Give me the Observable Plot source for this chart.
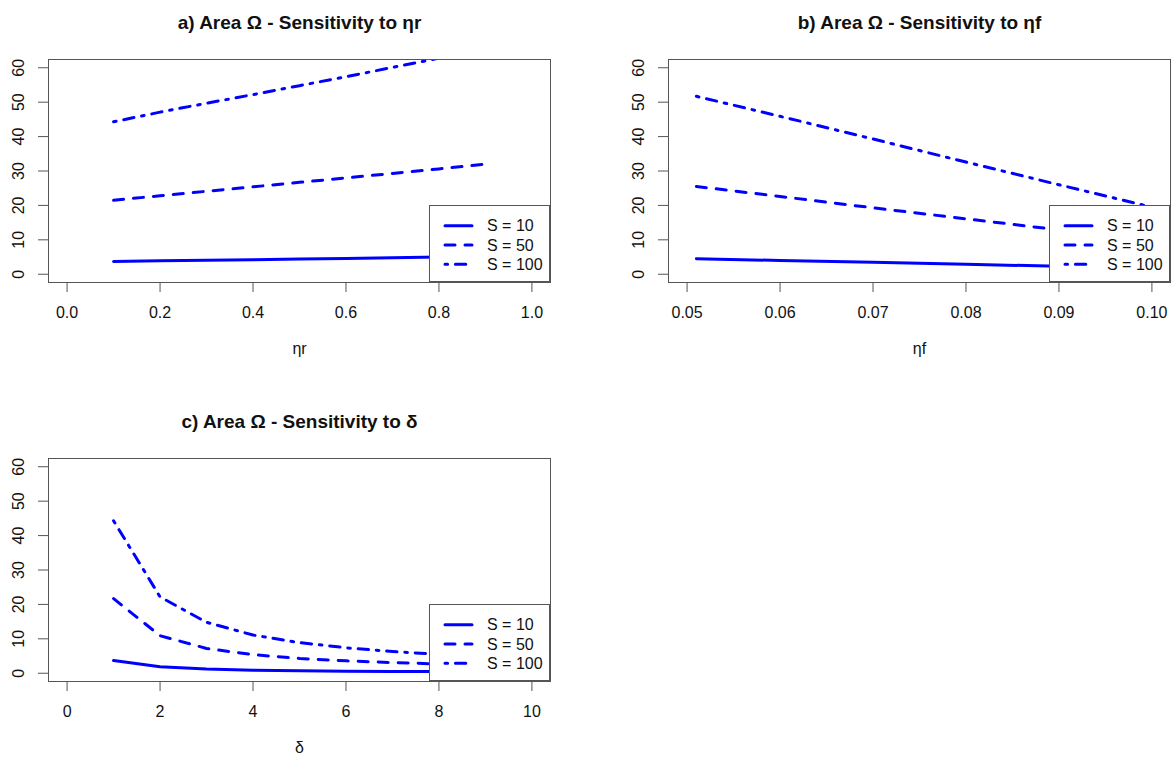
<!DOCTYPE html>
<html><head><meta charset="utf-8">
<script src="https://cdn.jsdelivr.net/npm/d3@7"></script>
<script src="https://cdn.jsdelivr.net/npm/@observablehq/plot@0.6"></script>
<style>
body{margin:0;background:#fff;}
#wrap{position:relative;width:1176px;height:757px;font-family:"Liberation Sans",Arial,sans-serif;background:#fff;}
#wrap svg{position:absolute;overflow:visible;}
</style></head><body><div id="wrap"></div>
<script>
// ---- data ----
const seriesNames = ["S = 10", "S = 50", "S = 100"];
const yTicks = [0, 10, 20, 30, 40, 50, 60];

// panel a: sensitivity to eta_r
const etaR = [0.1, 0.2, 0.3, 0.4, 0.5, 0.6, 0.7, 0.8, 0.9];
const aS10 = [3.7, 3.9, 4.1, 4.2, 4.4, 4.6, 4.8, 5.0, 5.2];
const aS50 = [21.5, 22.8, 24.1, 25.4, 26.7, 28.0, 29.3, 30.6, 32.0];
const aS100 = [44.3, 47.1, 49.7, 52.2, 54.8, 57.4, 60.1, 62.8, 65.5];
const aXTicks = [0, 0.2, 0.4, 0.6, 0.8, 1.0];

// panel b: sensitivity to eta_f
const etaF = [0.051, 0.06, 0.07, 0.08, 0.09, 0.10];
const bS10 = [4.5, 4.0, 3.5, 2.9, 2.3, 1.8];
const bS50 = [25.5, 22.6, 19.3, 16.1, 12.9, 9.7];
const bS100 = [51.7, 45.9, 39.3, 32.6, 26.0, 19.5];
const bXTicks = [0.05, 0.06, 0.07, 0.08, 0.09, 0.10];

// panel c: sensitivity to delta
const delta = [1, 2, 3, 4, 5, 6, 7, 8, 9, 10];
const cS10 = [3.7, 1.9, 1.2, 0.9, 0.7, 0.6, 0.5, 0.5, 0.4, 0.4];
const cS50 = [21.7, 10.9, 7.2, 5.4, 4.3, 3.6, 3.1, 2.7, 2.4, 2.2];
const cS100 = [44.3, 22.2, 14.8, 11.1, 8.9, 7.4, 6.3, 5.5, 4.9, 4.4];
const cXTicks = [0, 2, 4, 6, 8, 10];

// ---- styling ----
const BLUE = "#0000ff";
const FRAME = "#555";
const TXT = "#111";
const dashes = [null, "10,10", "2.6,7.8,10.4,7.8"];
const FONT = '"Liberation Sans", Arial, sans-serif';

function rowsOf(xs, series) {
  return series.map((vals, k) => xs.map((x, i) => ({x, y: vals[i], s: seriesNames[k]})));
}

function panel({left, top, W, H, m, xs, series, xDomain, xTicks, xFmt, title, xLabel}) {
  const rows = rowsOf(xs, series);
  const marks = rows.map((r, k) => Plot.line(r, {
    x: "x", y: "y", stroke: BLUE, strokeWidth: 3,
    strokeDasharray: dashes[k], strokeLinecap: "round", strokeLinejoin: "round", clip: true
  }));
  marks.push(Plot.frame({stroke: FRAME, strokeWidth: 1}));
  marks.push(Plot.text(xTicks, {x: d => d, text: d => xFmt(d), frameAnchor: "bottom", dy: 30,
    lineAnchor: "middle", fill: TXT, fontSize: 16}));
  marks.push(Plot.text(yTicks, {y: d => d, text: d => String(d), frameAnchor: "left", dx: -30,
    rotate: -90, textAnchor: "middle", lineAnchor: "middle", fill: TXT, fontSize: 16}));
  marks.push(Plot.text([title], {text: d => d, frameAnchor: "top", dy: -37, lineAnchor: "middle",
    fontWeight: "bold", fontSize: 19, fill: TXT}));
  marks.push(Plot.text([xLabel], {text: d => d, frameAnchor: "bottom", dy: 66, lineAnchor: "middle",
    fontSize: 16, fill: TXT}));
  const svg = Plot.plot({
    width: W, height: H,
    marginLeft: m.left, marginRight: m.right, marginTop: m.top, marginBottom: m.bottom,
    x: {domain: xDomain, ticks: xTicks, tickSize: 10, tickFormat: () => "", label: null},
    y: {domain: [-2.4, 62.4], ticks: yTicks, tickSize: 10, tickFormat: () => "", label: null},
    style: {fontFamily: FONT, fontSize: "16px", color: FRAME, background: "transparent", overflow: "visible"},
    marks
  });
  svg.style.left = left + "px";
  svg.style.top = top + "px";
  // legend (bottom-right, like R legend("bottomright"))
  const right = W - m.right, bottom = H - m.bottom;
  const lw = 121, lh = 77;
  const g = d3.select(svg).append("g");
  g.append("rect").attr("x", right - lw + 0.5).attr("y", bottom - lh + 0.5)
    .attr("width", lw - 1).attr("height", lh - 1)
    .attr("fill", "#fff").attr("stroke", FRAME).attr("stroke-width", 1);
  seriesNames.forEach((name, k) => {
    const cy = bottom - lh + 20.7 + k * 19.3;
    g.append("line").attr("x1", right - lw + 16).attr("x2", right - lw + 43)
      .attr("y1", cy).attr("y2", cy).attr("stroke", BLUE).attr("stroke-width", 3)
      .attr("stroke-linecap", "round").attr("stroke-dasharray", dashes[k]);
    g.append("text").attr("x", right - lw + 58).attr("y", cy).attr("dy", "0.36em")
      .attr("text-anchor", "start")
      .attr("fill", TXT).attr("font-size", 16).attr("font-family", FONT).text(name);
  });
  document.getElementById("wrap").appendChild(svg);
}

panel({left: 0, top: 0, W: 588, H: 378, m: {left: 48, right: 38, top: 59, bottom: 96},
  xs: etaR, series: [aS10, aS50, aS100], xDomain: [-0.04, 1.04], xTicks: aXTicks,
  xFmt: d3.format(".1f"), title: "a) Area Ω - Sensitivity to ηr", xLabel: "ηr"});
panel({left: 588, top: 0, W: 588, H: 378, m: {left: 80, right: 6, top: 59, bottom: 96},
  xs: etaF, series: [bS10, bS50, bS100], xDomain: [0.048, 0.102], xTicks: bXTicks,
  xFmt: d3.format(".2f"), title: "b) Area Ω - Sensitivity to ηf", xLabel: "ηf"});
panel({left: 0, top: 378, W: 588, H: 379, m: {left: 48, right: 38, top: 80, bottom: 76},
  xs: delta, series: [cS10, cS50, cS100], xDomain: [-0.4, 10.4], xTicks: cXTicks,
  xFmt: d3.format("d"), title: "c) Area Ω - Sensitivity to δ", xLabel: "δ"});
</script>
</body></html>
